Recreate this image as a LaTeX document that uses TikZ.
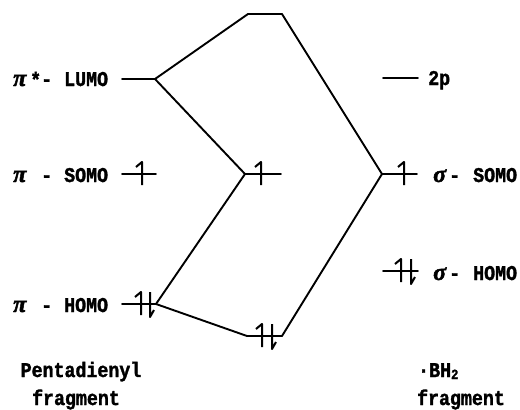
\documentclass[tikz,border=0pt]{standalone}
\usepackage{fontspec}
\setmainfont{Liberation Mono}[BoldFont={Liberation Mono Bold},BoldFeatures={FakeBold=1.6,FakeStretch=0.87}]
\newfontfamily\grk{Liberation Serif}[BoldItalicFont={Liberation Serif Bold Italic},BoldItalicFeatures={FakeBold=2}]
\newcommand{\gl}[1]{{\grk\bfseries\itshape\fontsize{24}{24}\selectfont #1}}
\begin{document}
\begin{tikzpicture}[x=1pt,y=-1pt,
  lineS/.style={line width=1.9pt,line cap=round,line join=round},
  lab/.style={inner sep=0pt,font=\fontsize{21}{21}\selectfont\bfseries},
  elec/.style={line width=2pt,line join=round}]
\useasboundingbox (0,0) rectangle (520,410);
% level ends
\foreach \n/\xa/\xb/\yy in {top/248/282/14, lumo/122/155/79, somol/122/156/174, somom/245/281/174,
  somor/382/417/174, twop/383/418/78, homol/122/156/304, bot/247/282/336, homor/383/418/271}{
  \coordinate (\n A) at (\xa,\yy);
  \coordinate (\n B) at (\xb,\yy);
  \draw[lineS] (\n A) -- (\n B);
}
% correlation lines
\draw[lineS] (lumoB) -- (topA);
\draw[lineS] (lumoB) -- (somomA);
\draw[lineS] (homolB) -- (somomA);
\draw[lineS] (homolB) -- (botA);
\draw[lineS] (topB) -- (somorA);
\draw[lineS] (botB) -- (somorA);
% electrons
\newcommand{\eup}[2]{\draw[elec] (#1,#2+11) -- (#1,#2-12) -- (#1-6,#2-7);}
\newcommand{\edn}[2]{\draw[elec] (#1,#2-12) -- (#1,#2+13) -- (#1+4,#2+6);}
\eup{142}{174}
\eup{261}{174}
\eup{404}{174}
\eup{141}{304}\edn{150}{304}
\eup{262}{336}\edn{272}{336}
\eup{401}{271}\edn{411}{271}
% labels
\node[lab,anchor=base west] (l1) at (13,86) {\gl{π}};
\node[lab,anchor=base west] (l1s) at (30,87) {*};
\node[lab,anchor=base west] (l1b) at (41,86) {-};
\node[lab,anchor=base west] (l1c) at (64,86) {LUMO};
\node[lab,anchor=base west] (l2) at (13,182) {\gl{π}};
\node[lab,anchor=base west] (l2b) at (41,182) {-};
\node[lab,anchor=base west] (l2c) at (64,182) {SOMO};
\node[lab,anchor=base west] (l3) at (13,312) {\gl{π}};
\node[lab,anchor=base west] (l3b) at (41,312) {-};
\node[lab,anchor=base west] (l3c) at (64,312) {HOMO};
\node[lab,anchor=base west] (r1) at (428,85) {2p};
\node[lab,anchor=base west] (r2) at (433,182) {\gl{σ}};
\node[lab,anchor=base west] (r2b) at (449,182) {-};
\node[lab,anchor=base west] (r2c) at (473,182) {SOMO};
\node[lab,anchor=base west] (r3) at (433,280) {\gl{σ}};
\node[lab,anchor=base west] (r3b) at (449,280) {-};
\node[lab,anchor=base west] (r3c) at (473,280) {HOMO};
\node[lab,anchor=base] (f1) at (81,377) {Pentadienyl};
\node[lab,anchor=base] (f2) at (76,405) {fragment};
\node[lab,anchor=base west] (f3) at (418,377) {·BH\raisebox{-2pt}{\fontsize{14}{14}\selectfont 2}};
\node[lab,anchor=base] (f4) at (461,405) {fragment};
\end{tikzpicture}
\end{document}
